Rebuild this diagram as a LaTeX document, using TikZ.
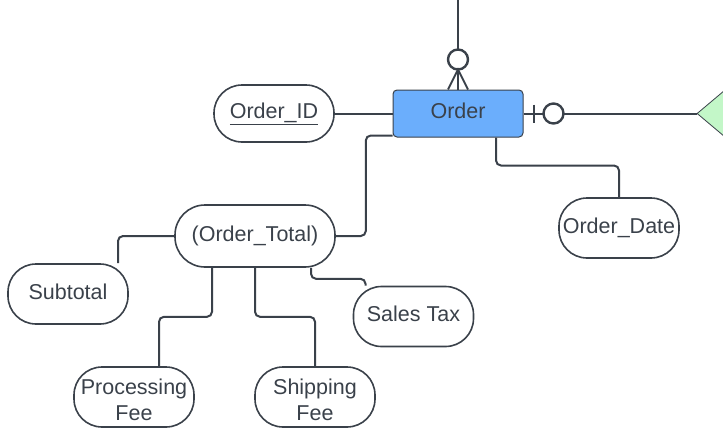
\documentclass[tikz,border=0pt]{standalone}
\usepackage{fontspec}
\setmainfont{Liberation Sans}
\usetikzlibrary{calc,shapes.geometric}
\definecolor{ink}{RGB}{58,65,74}
\definecolor{orderblue}{RGB}{107,174,252}
\definecolor{relgreen}{RGB}{195,247,200}

\begin{document}
\begin{tikzpicture}[x=1pt,y=-1pt,
    font=\fontsize{21.5}{26}\selectfont,
    attr/.style={draw=ink,line width=1.6pt,rounded corners=28pt,minimum width=120pt,
      minimum height=60pt,align=center,text=ink,inner sep=2pt},
    oneline/.style={text height=16pt,text depth=5.5pt},
    link/.style={draw=ink,line width=2pt,rounded corners=5pt}]
\useasboundingbox (0,0) rectangle (723,442);
\clip (0,0) rectangle (723,442);
\node[draw=ink,line width=1pt,fill=orderblue,rounded corners=4pt,minimum width=130pt,
  minimum height=47pt,text=ink,oneline] (order) at (458,113.5) {Order};
\node[diamond,draw=ink,line width=0.8pt,fill=relgreen,minimum width=140pt,
  minimum height=118pt,inner sep=0pt] (rel) at (767,113.5) {};
\node[attr,oneline,minimum height=57pt] (orderid) at (274,113.5) {\underline{Order\_ID}};
\node[attr,oneline,minimum width=160pt,minimum height=62pt,rounded corners=30pt] (ordertotal) at (255,236) {(Order\_Total)};
\foreach \Name/\X/\Y/\Text in {orderdate/619/228/Order\_Date, subtotal/68/294/Subtotal,
    salestax/413.5/316.5/Sales Tax}
  \node[attr,oneline] (\Name) at (\X,\Y) {\Text};
\foreach \Name/\X/\Y/\Text in {procfee/134/397/{Processing\\Fee}, shipfee/315/397/{Shipping\\Fee}}
  \node[attr,text height=47pt] (\Name) at (\X,\Y) {\Text};
\coordinate (top) at (458,0);
\draw[link] (top) -- ($(order.north)+(0,-40)$);
\draw[link,line width=2.4pt] ($(order.north)+(0,-30)$) circle (10pt);
\draw[link,sharp corners] ($(order.north)+(-10,0)$) -- ($(order.north)+(0,-20)$) -- ($(order.north)+(10,0)$);
\draw[link] ($(order.north)+(0,-20)$) -- (order.north);
\draw[link] (order.east) -- ++(20,0);
\draw[link] ($(order.east)+(10,-9)$) -- ++(0,18);
\draw[link,line width=2.4pt] ($(order.east)+(30,0)$) circle (10pt);
\draw[link] ($(order.east)+(40,0)$) -- (rel.west);
\draw[link] (orderid.east) -- (order.west);
\draw[link] (ordertotal.east) -- ++(30,0) |- ([yshift=2pt]order.south west);
\draw[link] ([xshift=38pt]order.south) -- ++(0,28) -| (orderdate.north);
\draw[link] (ordertotal.west) -| ([xshift=50pt]subtotal.north);
\draw[link] ([xshift=56pt]ordertotal.south) -- ++(0,11) -| ([xshift=-48pt]salestax.north);
\draw[link] ([xshift=-43pt]ordertotal.south) -- ++(0,49) -| ([xshift=25pt]procfee.north);
\draw[link] (ordertotal.south) -- ++(0,49) -| (shipfee.north);
\end{tikzpicture}
\end{document}
